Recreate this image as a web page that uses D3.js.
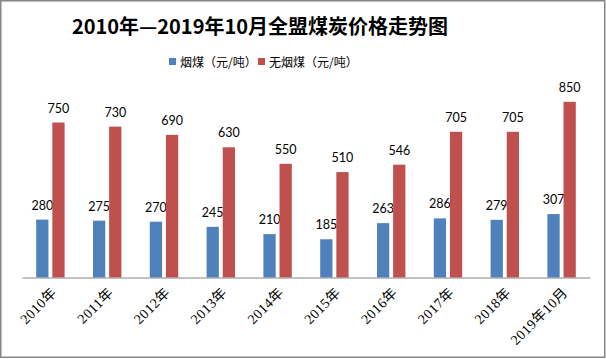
<!DOCTYPE html>
<html><head><meta charset="utf-8">
<script src="https://cdn.jsdelivr.net/npm/d3@7"></script>
<style>body{margin:0;background:#fff}svg{display:block}</style>
</head><body>
<svg id="c" width="606" height="359"></svg>
<script>
const categories = ["2010年","2011年","2012年","2013年","2014年","2015年","2016年","2017年","2018年","2019年10月"];
const bituminous = [280,275,270,245,210,185,263,286,279,307];
const anthracite = [750,730,690,630,550,510,546,705,705,850];
const seriesNames = ["烟煤（元/吨）","无烟煤（元/吨）"];
const colors = ["#4F81BD","#C0504D"];

const svg = d3.select("#c");
svg.append("rect").attr("x",0.75).attr("y",0.75).attr("width",604).attr("height",356.5)
  .attr("fill","#fff").attr("stroke","#868686").attr("stroke-width",1.5);

svg.append("text").attr("x",260).attr("y",34).attr("text-anchor","middle")
  .style("font-family","'Noto Sans CJK SC',sans-serif").style("font-weight","bold").style("font-size","20px")
  .text("2010年—2019年10月全盟煤炭价格走势图");

const x0 = d3.scaleBand().domain(categories).range([22,590]).paddingInner(0).paddingOuter(0);
const x1 = d3.scaleBand().domain([0,1]).range([0,x0.bandwidth()]).paddingInner(0.24).paddingOuter(0.88);
const y = d3.scaleLinear().domain([0,900]).range([277.5,91.5]);

// legend
const leg = svg.append("g").style("font-family","'Noto Sans CJK SC',sans-serif").style("font-size","12px");
const legX = [169,258];
seriesNames.forEach((n,i)=>{
  leg.append("rect").attr("x",legX[i]).attr("y",58).attr("width",7).attr("height",7).attr("fill",colors[i]);
  leg.append("text").attr("x",legX[i]+11).attr("y",66.5).text(n);
});

const data = [bituminous, anthracite];
const g = svg.append("g");
categories.forEach((c,ci)=>{
  data.forEach((s,si)=>{
    const bx = x0(c)+x1(si);
    g.append("rect").attr("x",bx).attr("y",y(s[ci])).attr("width",x1.bandwidth())
      .attr("height",y(0)-y(s[ci])).attr("fill",colors[si]);
    g.append("text").attr("x",bx+x1.bandwidth()/2).attr("y",y(s[ci])-10).attr("text-anchor","middle")
      .style("font-family","Lato,'Open Sans',sans-serif").style("font-size","12.5px").attr("fill","#000")
      .text(s[ci]);
  });
});

const axis = d3.axisBottom(x0).tickSize(0).tickPadding(0);
const ax = svg.append("g").attr("transform","translate(0,277.5)").call(axis);
ax.select(".domain").attr("stroke","#868686").attr("stroke-width",1.2);
ax.selectAll(".tick text")
  .style("font-family","'Liberation Serif','Noto Sans CJK SC',serif").style("font-size","14px").attr("fill","#000")
  .style("letter-spacing","0.5px")
  .attr("text-anchor","end").attr("dy",0).attr("y",0)
  .attr("transform","translate(7,16) rotate(-45)");
</script>
</body></html>
